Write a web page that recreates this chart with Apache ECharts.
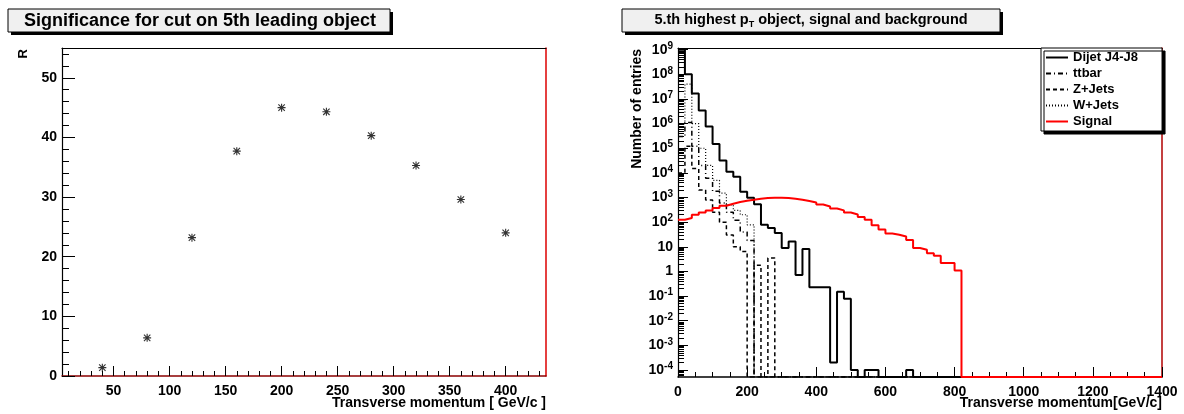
<!DOCTYPE html>
<html><head><meta charset="utf-8">
<script src="https://cdn.jsdelivr.net/npm/echarts@6/dist/echarts.min.js"></script>
<style>html,body{margin:0;padding:0;background:#fff}#c{width:1184px;height:414px}</style>
</head><body><div id="c"></div>
<script>
// ---------- Left panel: significance vs cut ----------
const cutValues    = [40, 80, 120, 160, 200, 240, 280, 320, 360, 400];
const significance = [1.4, 6.4, 23.2, 37.7, 45.0, 44.3, 40.3, 35.3, 29.6, 24.0];
const leftXMajor = [50, 100, 150, 200, 250, 300, 350, 400];
const leftXMinor = [10,20,30,40,60,70,80,90,110,120,130,140,160,170,180,190,210,220,230,240,260,270,280,290,310,320,330,340,360,370,380,390,410,420,430];
const leftYMajor = [0, 10, 20, 30, 40, 50];
const leftYMinor = [2,4,6,8,12,14,16,18,22,24,26,28,32,34,36,38,42,44,46,48,52,54];

// ---------- Right panel: 5th highest pT, 20 GeV bins from 0 to 1400 ----------
const binWidth = 20;
const dijet  = [1.0e9,1.0e8,1.66e7,3.4e6,7.6e5,1.5e5,3.2e4,1.1e4,7.0e3,1.7e3,
                980,530,78,58,36,8.9,16.5,0.72,8.1,0.23,
                0.23,0.23,2e-4,0.15,0.078,1e-4,0,1e-4,1e-4,0,
                0,0,0,1e-4,0,0,0,0,0,0,
                0,0,0,0,0,0,0,0,0,0,
                0,0,0,0,0,0,0,0,0,0,
                0,0,0,0,0,0,0,0,0,0];
const ttbar  = [3e5,1.1e6,1.2e5,2.0e4,6.0e3,1.8e3,600,250,120,40,
                18,0,0,0,0,0,0,0,0,0,
                0,0,0,0,0,0,0,0,0,0,
                0,0,0,0,0,0,0,0,0,0,
                0,0,0,0,0,0,0,0,0,0,
                0,0,0,0,0,0,0,0,0,0,
                0,0,0,0,0,0,0,0,0,0];
const zjets  = [1.0e4,1.2e5,1.5e4,2.0e3,800,250,100,30,10,6.5,
                0,1.8,0,3.5,0,0,0,0,0,0,
                0,0,0,0,0,0,0,0,0,0,
                0,0,0,0,0,0,0,0,0,0,
                0,0,0,0,0,0,0,0,0,0,
                0,0,0,0,0,0,0,0,0,0,
                0,0,0,0,0,0,0,0,0,0];
const wjets  = [1.0e6,4.0e7,1.0e6,1.0e5,2.0e4,5.0e3,1.5e3,500,300,200,
                78,0,0,0,0,0,0,0,0,0,
                0,0,0,0,0,0,0,0,0,0,
                0,0,0,0,0,0,0,0,0,0,
                0,0,0,0,0,0,0,0,0,0,
                0,0,0,0,0,0,0,0,0,0,
                0,0,0,0,0,0,0,0,0,0];
const signal = [126,148,200,245,300,375,465,560,660,740,
                815,890,950,975,975,950,890,815,720,630,
                520,435,360,300,245,205,162,126,75,50,
                35,31,26,19,9,7.6,5.5,4.3,2.2,2.2,
                1.1,0,0,0,0,0,0,0,0,0,
                0,0,0,0,0,0,0,0,0,0,
                0,0,0,0,0,0,0,0,0,0];
const rightXMax = 1400;
const logDecades = [1e-4,1e-3,1e-2,1e-1,1,10,1e2,1e3,1e4,1e5,1e6,1e7,1e8,1e9];

const Y_MIN = 5.2e-5, Y_MAX = 1.17e9;
const FONT = 'Liberation Sans, Arial, Helvetica, sans-serif';

function histPoints(h) {
  const pts = h.map((v, i) => [i * binWidth, v > 0 ? v : Y_MIN]);
  pts.push([h.length * binWidth, h[h.length - 1] > 0 ? h[h.length - 1] : Y_MIN]);
  return pts;
}
const logMinor = [];
for (let e = -5; e <= 9; e++) for (let m = 2; m <= 9; m++) {
  const v = m * Math.pow(10, e);
  if (v > Y_MIN && v < Y_MAX) logMinor.push(v);
}
function expLabel(v) {
  const e = Math.round(Math.log10(v));
  if (e === 0) return '{b|1}';
  if (e === 1) return '{b|10}';
  return '{b|10}{s|' + e + '}';
}

const asterisk = 'path://M4.3 0h1.4v10h-1.4z M0 4.3h10v1.4h-10z M1.5 0.5L9.5 8.5L8.5 9.5L0.5 1.5z M8.5 0.5L9.5 1.5L1.5 9.5L0.5 8.5z';

const lblStyle = {fontFamily: FONT, fontWeight: 'bold', fontSize: 14, color: '#000'};
const noZero = {onZero: false};

const chart = echarts.init(document.getElementById('c'), null, {renderer: 'canvas'});
chart.setOption({
  animation: false,
  backgroundColor: '#fff',
  grid: [
    {left: 62, top: 48, width: 484, height: 328},
    {left: 678, top: 48, width: 484, height: 329}
  ],
  legend: {
    left: 1041, top: 48, orient: 'vertical', itemWidth: 22, itemHeight: 12, itemGap: 3,
    padding: [3, 24, 3, 4], backgroundColor: '#fff', borderColor: '#000', borderWidth: 1,
    shadowColor: '#000', shadowOffsetX: 3, shadowOffsetY: 3, shadowBlur: 0,
    itemStyle: {opacity: 0},
    textStyle: {fontFamily: FONT, fontWeight: 'bold', fontSize: 13, color: '#000'},
    data: ['Dijet J4-J8', 'ttbar', 'Z+Jets', 'W+Jets', 'Signal']
  },
  xAxis: [
    {gridIndex: 0, type: 'value', min: 4, max: 436, position: 'bottom',
     axisLine: {show: true, ...noZero, lineStyle: {color: '#8b0000', width: 1.5}},
     axisTick: {show: true, inside: true, length: 10, customValues: leftXMajor, lineStyle: {color: '#000'}},
     axisLabel: {show: true, customValues: leftXMajor, margin: 8, ...lblStyle},
     splitLine: {show: false}},
    {gridIndex: 0, type: 'value', min: 4, max: 436, position: 'bottom',
     axisLine: {show: false, ...noZero}, axisLabel: {show: false}, splitLine: {show: false},
     axisTick: {show: true, inside: true, length: 5, customValues: leftXMinor, lineStyle: {color: '#000'}}},
    {gridIndex: 0, type: 'value', min: 4, max: 436, position: 'top',
     axisLine: {show: true, ...noZero, lineStyle: {color: '#000', width: 1.2}},
     axisTick: {show: false}, axisLabel: {show: false}, splitLine: {show: false}},
    {gridIndex: 1, type: 'value', min: 0, max: rightXMax, interval: 200, position: 'bottom',
     axisLine: {show: true, ...noZero, lineStyle: {color: '#000', width: 1.5}},
     axisTick: {show: true, inside: true, length: 10, lineStyle: {color: '#000'}},
     minorTick: {show: true, splitNumber: 4, length: 5, lineStyle: {color: '#000'}},
     axisLabel: {show: true, margin: 8, formatter: v => String(v), ...lblStyle},
     splitLine: {show: false}, minorSplitLine: {show: false}},
    {gridIndex: 1, type: 'value', min: 0, max: rightXMax, position: 'top',
     axisLine: {show: true, ...noZero, lineStyle: {color: '#000', width: 1.2}},
     axisTick: {show: false}, axisLabel: {show: false}, splitLine: {show: false}}
  ],
  yAxis: [
    {gridIndex: 0, type: 'value', min: 0, max: 55, position: 'left',
     axisLine: {show: true, ...noZero, lineStyle: {color: '#000', width: 1.2}},
     axisTick: {show: true, inside: true, length: 13, customValues: leftYMajor, lineStyle: {color: '#000'}},
     axisLabel: {show: true, customValues: leftYMajor, margin: 5, ...lblStyle},
     splitLine: {show: false}},
    {gridIndex: 0, type: 'value', min: 0, max: 55, position: 'left',
     axisLine: {show: false, ...noZero}, axisLabel: {show: false}, splitLine: {show: false},
     axisTick: {show: true, inside: true, length: 7, customValues: leftYMinor, lineStyle: {color: '#000'}}},
    {gridIndex: 0, type: 'value', min: 0, max: 55, position: 'right',
     axisLine: {show: true, ...noZero, lineStyle: {color: '#dd0000', width: 1.5}},
     axisTick: {show: false}, axisLabel: {show: false}, splitLine: {show: false}},
    {gridIndex: 1, type: 'log', logBase: 10, min: Y_MIN, max: Y_MAX, position: 'left',
     axisLine: {show: true, ...noZero, lineStyle: {color: '#000', width: 1.2}},
     axisTick: {show: true, inside: true, length: 10, customValues: logDecades, lineStyle: {color: '#000'}},
     axisLabel: {show: true, customValues: logDecades, margin: 5, formatter: expLabel,
       rich: {b: {fontFamily: FONT, fontWeight: 'bold', fontSize: 14, color: '#000'},
              s: {fontFamily: FONT, fontWeight: 'bold', fontSize: 10, color: '#000', verticalAlign: 'bottom', padding: [0, 0, 7, 0]}}},
     splitLine: {show: false}},
    {gridIndex: 1, type: 'log', logBase: 10, min: Y_MIN, max: Y_MAX, position: 'left',
     axisLine: {show: false, ...noZero}, axisLabel: {show: false}, splitLine: {show: false},
     axisTick: {show: true, inside: true, length: 6, customValues: logMinor, lineStyle: {color: '#000'}}},
    {gridIndex: 1, type: 'log', logBase: 10, min: Y_MIN, max: Y_MAX, position: 'right',
     axisLine: {show: true, ...noZero, lineStyle: {color: '#b00000', width: 1.5}},
     axisTick: {show: false}, axisLabel: {show: false}, splitLine: {show: false}}
  ],
  series: [
    {type: 'scatter', xAxisIndex: 0, yAxisIndex: 0, symbol: asterisk, symbolSize: 8,
     itemStyle: {color: '#000'}, data: cutValues.map((x, i) => [x, significance[i]])},
    {name: 'Dijet J4-J8', type: 'line', xAxisIndex: 3, yAxisIndex: 3, step: 'end', showSymbol: false, symbol: 'none',
     lineStyle: {color: '#000', width: 2}, itemStyle: {color: '#000'}, data: histPoints(dijet)},
    {name: 'ttbar', type: 'line', xAxisIndex: 3, yAxisIndex: 3, step: 'end', showSymbol: false, symbol: 'none',
     lineStyle: {color: '#000', width: 1.5, type: [5, 3, 1, 3]}, itemStyle: {color: '#000'}, data: histPoints(ttbar)},
    {name: 'Z+Jets', type: 'line', xAxisIndex: 3, yAxisIndex: 3, step: 'end', showSymbol: false, symbol: 'none',
     lineStyle: {color: '#000', width: 1.5, type: [4, 3]}, itemStyle: {color: '#000'}, data: histPoints(zjets)},
    {name: 'W+Jets', type: 'line', xAxisIndex: 3, yAxisIndex: 3, step: 'end', showSymbol: false, symbol: 'none',
     lineStyle: {color: '#000', width: 1.2, type: [1, 2]}, itemStyle: {color: '#000'}, data: histPoints(wjets)},
    {name: 'Signal', type: 'line', xAxisIndex: 3, yAxisIndex: 3, step: 'end', showSymbol: false, symbol: 'none',
     lineStyle: {color: '#ff0000', width: 2}, itemStyle: {color: '#ff0000'}, data: histPoints(signal)}
  ],
  graphic: [
    // left title box
    {type: 'rect', shape: {x: 11, y: 12, width: 382, height: 23}, style: {fill: '#000'}},
    {type: 'rect', shape: {x: 8, y: 9, width: 382, height: 23}, style: {fill: '#f0f0f0', stroke: '#000', lineWidth: 1}},
    {type: 'text', x: 200, y: 21, style: {text: 'Significance for cut on 5th leading object', fontFamily: FONT, fontWeight: 'bold', fontSize: 18, fill: '#000', align: 'center', verticalAlign: 'middle'}},
    // right title box
    {type: 'rect', shape: {x: 625, y: 12, width: 378, height: 23}, style: {fill: '#000'}},
    {type: 'rect', shape: {x: 622, y: 9, width: 378, height: 23}, style: {fill: '#f0f0f0', stroke: '#000', lineWidth: 1}},
    {type: 'text', x: 811, y: 20, style: {text: '{a|5.th highest p}{u|T}{a| object, signal and background}',
      align: 'center', verticalAlign: 'middle',
      rich: {a: {fontFamily: FONT, fontWeight: 'bold', fontSize: 14.5, fill: '#000'},
             u: {fontFamily: FONT, fontWeight: 'bold', fontSize: 9, fill: '#000', verticalAlign: 'top', padding: [9, 0, 0, 0]}}}},
    // axis titles
    {type: 'text', x: 23, y: 49, rotation: Math.PI / 2, style: {text: 'R', fontFamily: FONT, fontWeight: 'bold', fontSize: 13, fill: '#000', align: 'right', verticalAlign: 'middle'}},
    {type: 'text', x: 546, y: 403, style: {text: 'Transverse momentum [ GeV/c ]', fontFamily: FONT, fontWeight: 'bold', fontSize: 14, fill: '#000', align: 'right', verticalAlign: 'middle'}},
    {type: 'text', x: 637, y: 49, rotation: Math.PI / 2, style: {text: 'Number of entries', fontFamily: FONT, fontWeight: 'bold', fontSize: 14, fill: '#000', align: 'right', verticalAlign: 'middle'}},
    {type: 'text', x: 1162, y: 403, style: {text: 'Transverse momentum[GeV/c]', fontFamily: FONT, fontWeight: 'bold', fontSize: 14, fill: '#000', align: 'right', verticalAlign: 'middle'}}
  ]
});
</script></body></html>
